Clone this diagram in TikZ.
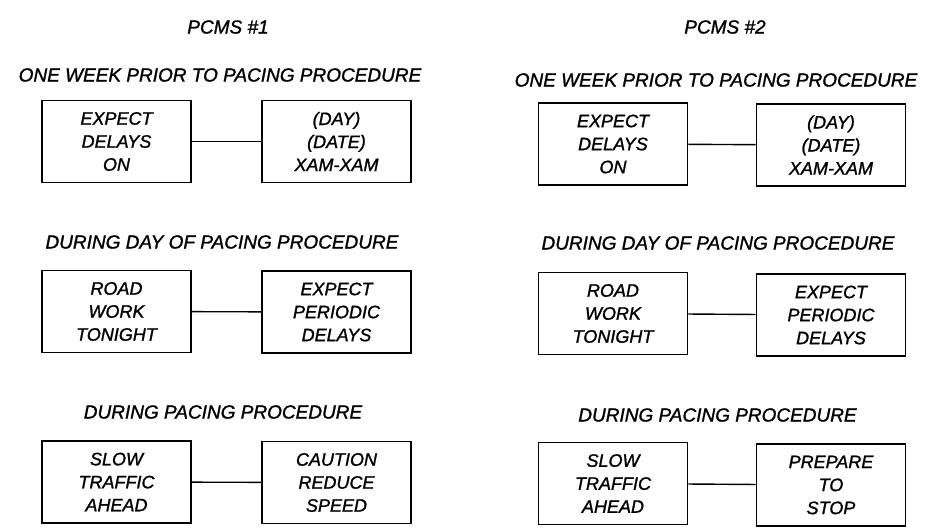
\documentclass[tikz,border=0pt]{standalone}
\usepackage{fontspec}
\setmainfont{Liberation Sans}
\newfontfamily\leroy{Liberation Sans Italic}[FakeBold=1.3]
\begin{document}
\begin{tikzpicture}[x=1pt,y=-1pt,
  sign/.style={draw, line width=1.9pt, minimum width=149pt, minimum height=82pt,
    inner sep=0pt, align=center, font=\fontsize{18}{23}\leroy},
  head/.style={inner sep=0pt, font=\fontsize{19}{23}\leroy},
  link/.style={line width=1.4pt}]
\useasboundingbox (0,0) rectangle (947,529);
% left column
\node[head] (t1) at (228,27) {PCMS \#1};
\node[head] (h1a) at (220,75) {ONE WEEK PRIOR TO PACING PROCEDURE};
\node[sign] (L1a) at (116.5,141.5) {EXPECT\\DELAYS\\ON};
\node[sign] (L1b) at (336.5,141.5) {(DAY)\\(DATE)\\XAM-XAM};
\node[head] (h1b) at (222,242) {DURING DAY OF PACING PROCEDURE};
\node[sign] (L2a) at (116.5,311.5) {ROAD\\WORK\\TONIGHT};
\node[sign] (L2b) at (336.5,312) {EXPECT\\PERIODIC\\DELAYS};
\node[head] (h1c) at (223,412) {DURING PACING PROCEDURE};
\node[sign] (L3a) at (116.5,482) {SLOW\\TRAFFIC\\AHEAD};
\node[sign] (L3b) at (336.5,482.5) {CAUTION\\REDUCE\\SPEED};
% right column
\node[head] (t2) at (725,27) {PCMS \#2};
\node[head] (h2a) at (716,80) {ONE WEEK PRIOR TO PACING PROCEDURE};
\node[sign] (R1a) at (613,144) {EXPECT\\DELAYS\\ON};
\node[sign] (R1b) at (831,145) {(DAY)\\(DATE)\\XAM-XAM};
\node[head] (h2b) at (718,243) {DURING DAY OF PACING PROCEDURE};
\node[sign] (R2a) at (613,313.5) {ROAD\\WORK\\TONIGHT};
\node[sign] (R2b) at (831,315) {EXPECT\\PERIODIC\\DELAYS};
\node[head] (h2c) at (717.5,415) {DURING PACING PROCEDURE};
\node[sign] (R3a) at (613,483.5) {SLOW\\TRAFFIC\\AHEAD};
\node[sign] (R3b) at (831,485) {PREPARE\\TO\\STOP};
% connectors
\foreach \a/\b in {L1a/L1b,L2a/L2b,L3a/L3b,R1a/R1b,R2a/R2b,R3a/R3b}
  \draw[link] (\a) -- (\b);
\end{tikzpicture}
\end{document}
